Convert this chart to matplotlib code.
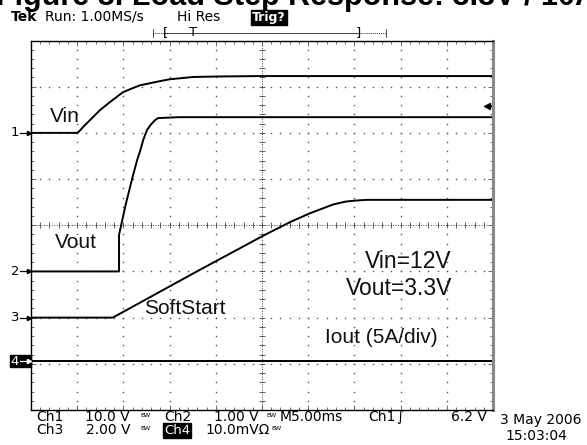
"""
Scope capture recreation: soft start of the 3.3V rail (Vin, Vout, SoftStart, Iout).
"""

import matplotlib.pyplot as plt
import numpy as np
from matplotlib.ticker import MultipleLocator

W, H = 587, 445

# ── Traces, in screen divisions (x: 0..10, y: 0..8 from the bottom) ──
vin_x = [0.0, 1.0, 1.06, 1.13, 1.3, 1.49, 1.7, 1.99, 2.18, 2.36, 2.6, 2.79,
         3.0, 3.51, 4.0, 4.96, 10.0]
vin_y = [6.0, 6.0, 6.05, 6.13, 6.3, 6.49, 6.66, 6.88, 6.96, 7.03, 7.08, 7.12,
         7.16, 7.21, 7.22, 7.23, 7.23]

vout_x = [0.0, 1.905, 1.905, 1.96, 2.05, 2.2, 2.3, 2.36, 2.43, 2.51, 2.58,
          2.64, 2.69, 2.75, 3.2, 10.0]
vout_y = [3.0, 3.0, 3.79, 4.04, 4.45, 5.05, 5.42, 5.6, 5.85, 6.06, 6.16,
          6.23, 6.28, 6.32, 6.34, 6.34]

ss_x = [0.0, 1.77, 3.59, 5.02, 5.61, 6.04, 6.54, 6.8, 6.97, 7.27, 10.0]
ss_y = [2.0, 2.0, 3.0, 3.77, 4.07, 4.26, 4.45, 4.51, 4.53, 4.55, 4.55]

iout_x = [0.0, 10.0]
iout_y = [1.06, 1.06]

channel_ids = ["1", "2", "3", "4"]
channel_levels = [6.0, 3.0, 2.0, 1.06]
trig_level = 6.58

# ── Figure ──
fig = plt.figure(figsize=(W / 100, H / 100), dpi=100)
fig.patch.set_facecolor("white")

# graticule axes
x0, x1, y0, y1 = 31, 493, 40.5, 410
ax = fig.add_axes([x0 / W, 1 - y1 / H, (x1 - x0) / W, (y1 - y0) / H])
ax.set_xlim(0, 10)
ax.set_ylim(0, 8)
ax.set_facecolor("white")

# overlay in pixel coordinates for the screen texts, drawn on top
ov = fig.add_axes([0, 0, 1, 1])
ov.set_xlim(0, W)
ov.set_ylim(H, 0)
ov.axis("off")
ov.set_zorder(ax.get_zorder() + 1)

for side in ["left", "top", "bottom"]:
    ax.spines[side].set_color("black")
    ax.spines[side].set_linewidth(1.0)
ax.spines["right"].set_color("#8a8a8a")
ax.spines["right"].set_linewidth(2.2)

ax.xaxis.set_minor_locator(MultipleLocator(0.2))
ax.yaxis.set_minor_locator(MultipleLocator(0.2))
ax.xaxis.set_major_locator(MultipleLocator(1))
ax.yaxis.set_major_locator(MultipleLocator(1))
ax.tick_params(which="both", direction="in", top=True, right=True,
               labelbottom=False, labelleft=False, color="#555555", width=0.6)
ax.tick_params(which="major", length=3.5)
ax.tick_params(which="minor", length=2.2)

# dotted grid lines: one dot each 0.2 div
steps = np.arange(0, 8.01, 0.2)
for xv in [1, 2, 3, 4, 6, 7, 8, 9]:
    ax.plot([xv] * len(steps), steps, ls="none", marker="s", ms=1.0,
            mew=0, color="#555555")
steps_x = np.arange(0, 10.01, 0.2)
for yv in [1, 2, 3, 5, 6, 7]:
    ax.plot(steps_x, [yv] * len(steps_x), ls="none", marker="s", ms=1.0,
            mew=0, color="#555555")

# centre lines with their small cross ticks
ax.axvline(5, ls=(0, (1, 1.6)), lw=0.7, color="#444444")
ax.axhline(4, ls=(0, (1, 1.6)), lw=0.7, color="#444444")
ax.plot([5] * len(steps), steps, ls="none", marker="_", ms=4, mew=0.6,
        color="#444444")
ax.plot(steps_x, [4] * len(steps_x), ls="none", marker="|", ms=4, mew=0.6,
        color="#444444")

# traces
for tx, ty in [(vin_x, vin_y), (vout_x, vout_y), (ss_x, ss_y), (iout_x, iout_y)]:
    ax.plot(tx, ty, color="black", lw=1.4, solid_joinstyle="round",
            solid_capstyle="round")

# trigger level arrow at the right edge
ax.plot([9.87, 10.0], [trig_level, trig_level], color="black", lw=1.0, clip_on=False)
ax.plot([9.86], [trig_level], marker="<", ms=5, color="black", clip_on=False)

# channel reference markers on the left
for cid, lvl in zip(channel_ids, channel_levels):
    ypx = y1 - lvl * (y1 - y0) / 8
    if cid == "4":
        ov.add_patch(plt.Rectangle((10, ypx - 6), 21, 12, color="black"))
        col = "white"
    else:
        col = "black"
    ov.text(19, ypx, cid, ha="right", va="center", fontsize=9.5,
            family="DejaVu Sans", color=col)
    ov.plot([20, 29], [ypx, ypx], color=col, lw=0.9)
    ov.plot([28.5], [ypx], marker=">", ms=3, color=col)

# annotations on the screen
ann = dict(family="Liberation Sans", color="#111111", va="baseline")
ov.text(50, 122, "Vin", fontsize=15, **ann)
ov.text(55, 248, "Vout", fontsize=15, **ann)
ov.text(144, 314, "SoftStart", fontsize=15, **ann)
ov.text(452, 268, "Vin=12V", fontsize=16.5, ha="right", **ann)
ov.text(452, 295, "Vout=3.3V", fontsize=16.5, ha="right", **ann)
ov.text(325, 343, "Iout (5A/div)", fontsize=15, **ann)

# clipped figure caption above the screen
ov.text(-4, 5, "Figure 8. Load Step Response: 3.3V / 10A", fontsize=22,
        fontweight="bold", family="Liberation Sans", va="baseline", clip_on=True)

# ── Scope header ──
tek = dict(family="DejaVu Sans", fontsize=10, va="baseline", color="black")
ov.text(11, 21, "Tek", fontweight="bold", **tek)
ov.text(45, 21, "Run: 1.00MS/s", **tek)
ov.text(177, 21, "Hi Res", **tek)
ov.text(252, 21, "Trig?", fontweight="bold",
        bbox=dict(boxstyle="square,pad=0.1", fc="black", ec="black"),
        family="DejaVu Sans", fontsize=9, va="baseline", color="white")

ov.plot([153, 386], [33, 33], ls=(0, (1, 1)), lw=0.7, color="#333333")
ov.plot([165, 358], [33, 33], lw=0.6, color="#333333")
for xb in [153, 386]:
    ov.plot([xb, xb], [29, 37], lw=0.6, color="#333333")
ov.text(166, 33, "[", ha="center", va="center", fontsize=9.5, family="DejaVu Sans")
ov.text(193, 32, "T", ha="center", va="center", fontsize=9.5, family="DejaVu Sans")
ov.text(358, 33, "]", ha="center", va="center", fontsize=9.5, family="DejaVu Sans")

# ── Scope footer ──
bw = dict(family="DejaVu Sans", fontsize=4.5, va="baseline", color="black")
ov.text(36, 421, "Ch1", **tek)
ov.text(130, 421, "10.0 V", ha="right", **tek)
ov.text(140, 417, "BW", **bw)
ov.text(164, 421, "Ch2", **tek)
ov.text(259, 421, "1.00 V", ha="right", **tek)
ov.text(266, 417, "BW", **bw)
ov.text(280, 421, "M5.00ms", **tek)
ov.text(368, 421, "Ch1", **tek)
ov.text(396, 421, "\u222b", **tek)
ov.text(487, 421, "6.2 V", ha="right", **tek)

ov.text(36, 434, "Ch3", **tek)
ov.text(130, 434, "2.00 V", ha="right", **tek)
ov.text(140, 430, "BW", **bw)
ov.text(164, 434, "Ch4", family="DejaVu Sans", fontsize=9.5, va="baseline",
        color="white", bbox=dict(boxstyle="square,pad=0.1", fc="black", ec="black"))
ov.text(205, 434, "10.0mV\u03a9", **tek)
ov.text(271, 430, "BW", **bw)

ov.text(500, 424, "3 May 2006", **tek)
ov.text(505, 440, "15:03:04", **tek)

plt.savefig("out.png", dpi=100)
plt.close()
